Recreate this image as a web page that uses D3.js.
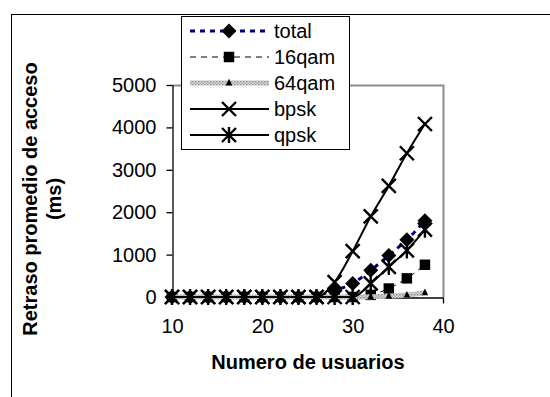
<!DOCTYPE html>
<html>
<head>
<meta charset="utf-8">
<script src="https://cdn.jsdelivr.net/npm/d3@7"></script>
<style>
  html, body { margin: 0; padding: 0; background: #fff; }
  svg { display: block; }
  text { font-family: "Liberation Sans", Arial, sans-serif; }
</style>
</head>
<body>
<svg id="chart" width="550" height="397"></svg>
<script>
// ---- data ----
const users = [10, 12, 14, 16, 18, 20, 22, 24, 26, 28, 30, 32, 34, 36, 38];
const total = [0, 0, 0, 0, 0, 0, 0, 0, 0, 150, 320, 630, 980, 1350, 1800];
const qam16 = [0, 0, 0, 0, 0, 0, 0, 0, 0, 0, 0, 50, 200, 440, 760];
const qam64 = [0, 0, 0, 0, 0, 0, 0, 0, 0, 0, 0, 5, 20, 45, 100];
const bpsk  = [0, 0, 0, 0, 0, 0, 0, 0, 0, 350, 1080, 1900, 2620, 3390, 4080];
const qpsk  = [0, 0, 0, 0, 0, 0, 0, 0, 0, 0, 0, 320, 710, 1100, 1590];
const seriesNames = ["total", "16qam", "64qam", "bpsk", "qpsk"];
const xTicks = [10, 20, 30, 40];
const yTicks = [0, 1000, 2000, 3000, 4000, 5000];
const xTitle = "Numero de usuarios";
const yTitle = ["Retraso promedio de acceso", "(ms)"];

// ---- layout ----
const svg = d3.select("#chart");
const x = d3.scaleLinear().domain([10, 40]).range([172, 443]);
const y = d3.scaleLinear().domain([0, 5000]).range([297, 85]);

// hatched pattern for 64qam
const defs = svg.append("defs");
const pat = defs.append("pattern").attr("id", "hatch").attr("patternUnits", "userSpaceOnUse")
  .attr("width", 3).attr("height", 3);
pat.append("rect").attr("width", 3).attr("height", 3).attr("fill", "#e0e0e0");
pat.append("rect").attr("width", 1.5).attr("height", 1.5).attr("fill", "#8a8a8a");
pat.append("rect").attr("x", 1.5).attr("y", 1.5).attr("width", 1.5).attr("height", 1.5).attr("fill", "#a8a8a8");

// outer frame (right/bottom beyond the view)
svg.append("rect").attr("x", 11.5).attr("y", 14.5).attr("width", 700).attr("height", 500)
  .attr("fill", "none").attr("stroke", "#000").attr("stroke-width", 1);

// plot area border (gray top/right)
const [x0, x1] = x.range();
const [yb, yt] = y.range();
svg.append("path")
  .attr("d", d3.line()([[x0, yt + 0.5], [x1 + 0.5, yt + 0.5], [x1 + 0.5, yb]]))
  .attr("fill", "none").attr("stroke", "#8c8c8c").attr("stroke-width", 2);

// axes
const yAxis = svg.append("g").attr("transform", `translate(${x0 + 0.5},0)`)
  .call(d3.axisLeft(y).tickValues(yTicks).tickFormat(d3.format("d")).tickSize(6).tickPadding(10).tickSizeOuter(0));
const xAxis = svg.append("g").attr("transform", `translate(0,${yb + 0.5})`)
  .call(d3.axisBottom(x).tickValues(xTicks).tickFormat(d3.format("d")).tickSize(6).tickPadding(15).tickSizeOuter(0));
[yAxis, xAxis].forEach(g => {
  g.selectAll("path.domain").attr("stroke", "#000").attr("stroke-width", 1.3);
  g.selectAll(".tick line").attr("stroke", "#000").attr("stroke-width", 1.3);
  g.selectAll(".tick text").attr("fill", "#000").style("font-size", "20px")
    .style("font-family", '"Liberation Sans", Arial, sans-serif');
});
xAxis.selectAll(".tick").filter(d => d === 10).select("line").remove();

// axis titles
svg.append("text").attr("x", 308).attr("y", 369).attr("text-anchor", "middle")
  .style("font-size", "20px").style("font-weight", "bold").text(xTitle);
yTitle.forEach((t, i) => {
  svg.append("text").attr("transform", `translate(${37 + i * 24},199) rotate(-90)`)
    .attr("text-anchor", "middle").style("font-size", "20px").style("font-weight", "bold").text(t);
});

// marker symbol types
const diamond = { draw(c, s) { const r = Math.sqrt(s) / 2; c.moveTo(0, -r); c.lineTo(r, 0); c.lineTo(0, r); c.lineTo(-r, 0); c.closePath(); } };
const square = { draw(c, s) { const r = Math.sqrt(s) / 2; c.rect(-r, -r, 2 * r, 2 * r); } };
const triangle = { draw(c, s) { const r = Math.sqrt(s) / 2; c.moveTo(0, -r); c.lineTo(r * 0.8, r * 0.6); c.lineTo(-r * 0.8, r * 0.6); c.closePath(); } };
const cross = { draw(c, s) { const r = Math.sqrt(s) / 2; c.moveTo(-r, -r); c.lineTo(r, r); c.moveTo(r, -r); c.lineTo(-r, r); } };
const star = { draw(c, s) { const r = Math.sqrt(s) / 2; c.moveTo(-r, -r); c.lineTo(r, r); c.moveTo(r, -r); c.lineTo(-r, r); c.moveTo(0, -r * 1.15); c.lineTo(0, r * 1.15); } };

const series = [
  { name: seriesNames[0], values: total, stroke: "#000080", width: 3, dash: "5,5", sym: diamond, size: 225, fill: "#000", mstroke: "none" },
  { name: seriesNames[1], values: qam16, stroke: "#000", width: 1, dash: "6,5", sym: square, size: 110, fill: "#000", mstroke: "none" },
  { name: seriesNames[2], values: qam64, stroke: "url(#hatch)", width: 5, dash: null, sym: triangle, size: 70, fill: "#000", mstroke: "none" },
  { name: seriesNames[3], values: bpsk, stroke: "#000", width: 2, dash: null, sym: cross, size: 196, fill: "none", mstroke: "#000" },
  { name: seriesNames[4], values: qpsk, stroke: "#000", width: 2, dash: null, sym: star, size: 196, fill: "none", mstroke: "#000" }
];

const line = d3.line().x(d => x(d[0])).y(d => y(d[1])).curve(d3.curveMonotoneX);
const plot = svg.append("g");
series.forEach(s => {
  const pts = users.map((u, i) => [u, s.values[i]]);
  plot.append("path").datum(pts).attr("d", line)
    .attr("fill", "none").attr("stroke", s.stroke).attr("stroke-width", s.width)
    .attr("stroke-dasharray", s.dash);
  plot.selectAll(null).data(pts).enter().append("path")
    .attr("transform", d => `translate(${x(d[0])},${y(d[1])})`)
    .attr("d", d3.symbol().type(s.sym).size(s.size))
    .attr("fill", s.fill).attr("stroke", s.mstroke).attr("stroke-width", 2.4);
});

// legend
const lg = svg.append("g");
lg.append("rect").attr("x", 181.5).attr("y", 16.5).attr("width", 168).attr("height", 133)
  .attr("fill", "#fff").attr("stroke", "#000").attr("stroke-width", 1);
series.forEach((s, i) => {
  const cy = 31 + i * 26;
  lg.append("line").attr("x1", 190).attr("x2", 269).attr("y1", cy).attr("y2", cy)
    .attr("stroke", s.stroke).attr("stroke-width", s.width).attr("stroke-dasharray", s.dash);
  lg.append("path").attr("transform", `translate(229,${cy})`)
    .attr("d", d3.symbol().type(s.sym).size(s.size))
    .attr("fill", s.fill).attr("stroke", s.mstroke).attr("stroke-width", 2.4);
  lg.append("text").attr("x", 274).attr("y", cy + 7).style("font-size", "20px").text(s.name);
});
</script>
</body>
</html>
